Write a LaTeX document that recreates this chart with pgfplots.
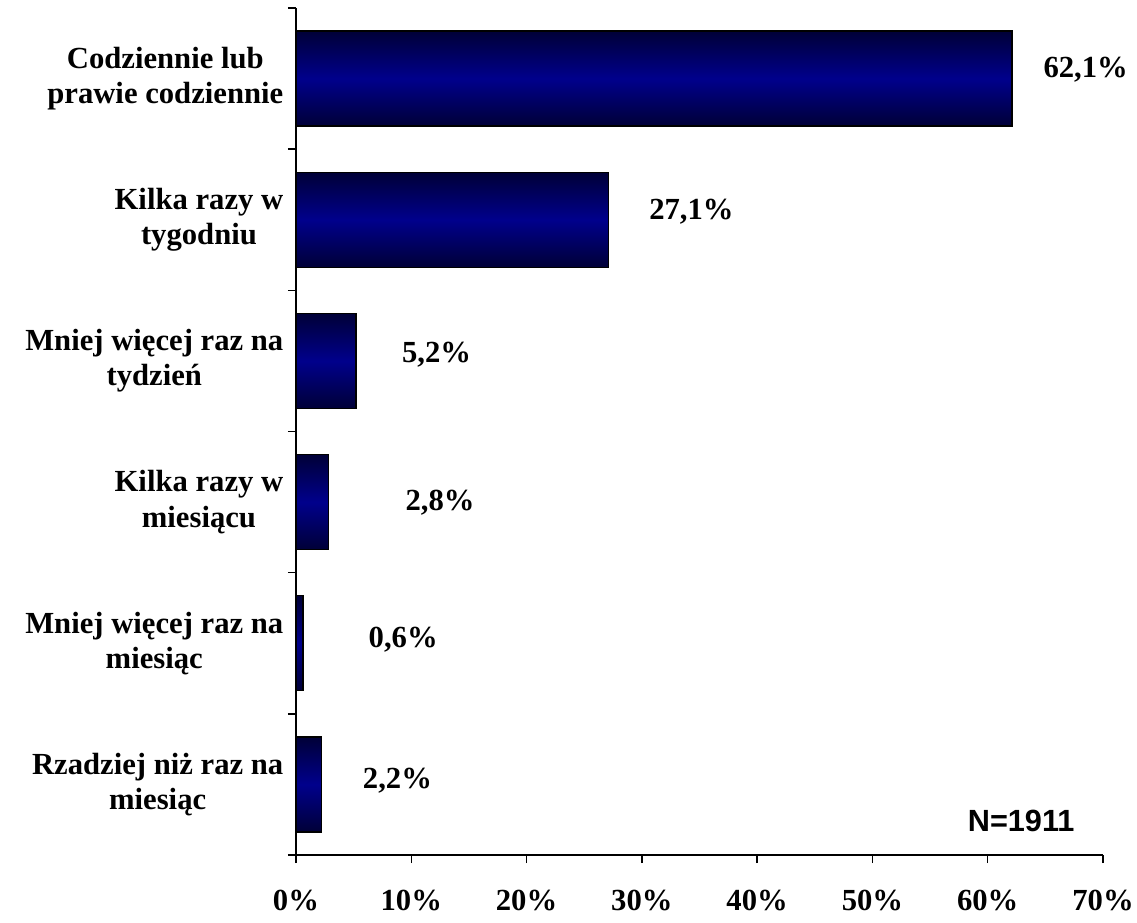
\documentclass[border=0pt]{standalone}
\usepackage{fontspec}
\setmainfont{Liberation Serif}
\newfontfamily\arialfont{Liberation Sans}
\usepackage{pgfplots}
\pgfplotsset{compat=1.18}
\definecolor{navydark}{RGB}{0,0,55}
\definecolor{navymid}{RGB}{0,0,140}
\begin{document}
\begin{tikzpicture}
\begin{axis}[
  name=ax,
  scale only axis,
  width=605.25pt, height=635.25pt,
  xmin=0, xmax=70, ymin=-0.5, ymax=5.5,
  y dir=reverse,
  axis lines*=left,
  axis line style={line width=1.1pt},
  tick align=outside,
  major tick length=6pt,
  every tick/.style={black, line width=1.1pt},
  xtick={0,10,20,30,40,50,60,70},
  xticklabels={0\%,10\%,20\%,30\%,40\%,50\%,60\%,70\%},
  xticklabel style={font=\fontsize{23}{26}\selectfont\bfseries, yshift=-17pt},
  ytick={-0.5,0.5,1.5,2.5,3.5,4.5,5.5},
  yticklabels={},
  extra y ticks={0,1,2,3,4,5},
  extra y tick labels={{Codziennie lub\\prawie codziennie},{Kilka razy w\\tygodniu},{Mniej więcej raz na\\tydzień},{Kilka razy w\\miesiącu},{Mniej więcej raz na\\miesiąc},{Rzadziej niż raz na\\miesiąc}},
  extra y tick style={major tick length=0pt, yticklabel style={align=center, font=\fontsize{23}{26.5}\selectfont\bfseries, xshift=-6pt}},
  clip=false,
  mybar/.style={xbar, bar width=71.25pt, bar shift=0pt, draw=black, line width=1.1pt, top color=navydark, bottom color=navydark, middle color=navymid},
]
\addplot[mybar] coordinates {(62.1,0)};
\addplot[mybar] coordinates {(27.1,1)};
\addplot[mybar] coordinates {(5.2,2)};
\addplot[mybar] coordinates {(2.8,3)};
\addplot[mybar] coordinates {(0.6,4)};
\addplot[mybar] coordinates {(2.2,5)};
\begin{scope}[every node/.style={font=\fontsize{23}{26}\selectfont\bfseries}]
\node at (axis cs:68.5,-0.06) {62,1\%};
\node at (axis cs:34.3,0.945) {27,1\%};
\node at (axis cs:12.2,1.958) {5,2\%};
\node at (axis cs:12.5,3.006) {2,8\%};
\node at (axis cs:9.3,3.977) {0,6\%};
\node at (axis cs:8.8,4.976) {2,2\%};
\end{scope}
\node[font=\arialfont\fontsize{23}{26}\selectfont\bfseries] at (axis cs:62.9,5.26) {N=1911};
\coordinate (bl) at (rel axis cs:0,0);
\coordinate (tr) at (rel axis cs:1,1);
\end{axis}
\pgfresetboundingbox
\path ([shift={(-222pt,-51pt)}]bl) rectangle ([shift={(25.5pt,6pt)}]tr);
\end{tikzpicture}
\end{document}
